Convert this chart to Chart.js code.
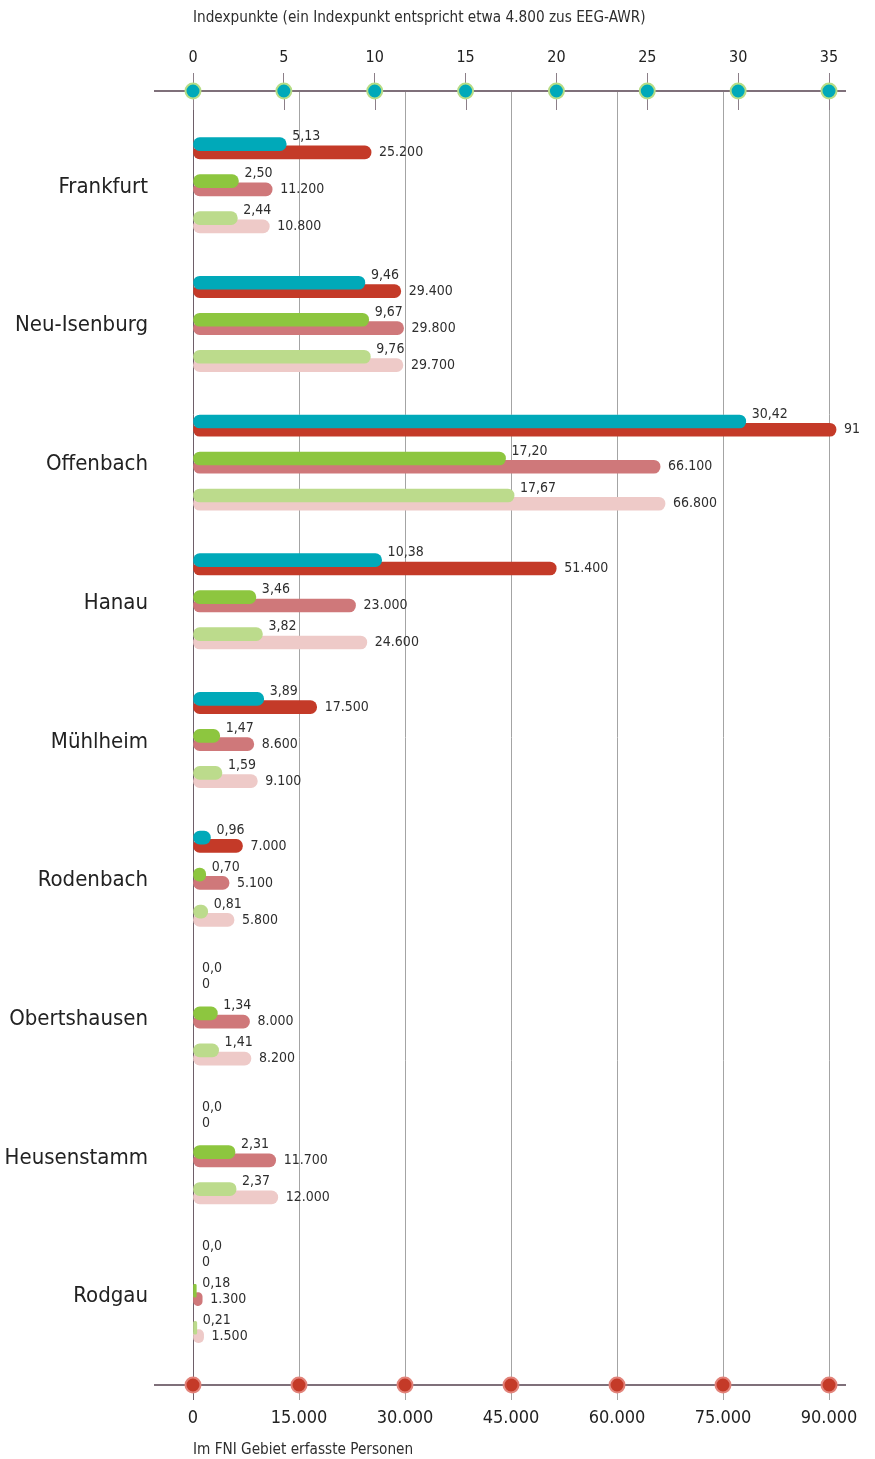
<!DOCTYPE html>
<html lang="de">
<head>
<meta charset="utf-8">
<title>Indexpunkte und erfasste Personen</title>
<script src="https://cdn.jsdelivr.net/npm/chart.js@4.4.1/dist/chart.umd.min.js"></script>
<style>
  html, body { margin: 0; padding: 0; background: #fff; }
  #wrap { width: 875px; height: 1459px; }
</style>
</head>
<body>
<div id="wrap"><canvas id="chart" width="875" height="1459"></canvas></div>
<script>
// Gemeinden von oben nach unten
const staedte = ['Frankfurt', 'Neu-Isenburg', 'Offenbach', 'Hanau', 'Mühlheim', 'Rodenbach', 'Obertshausen', 'Heusenstamm', 'Rodgau'];

// Indexpunkte, drei Reihen je Gemeinde
const index1 = [5.13, 9.46, 30.42, 10.38, 3.89, 0.96, 0, 0, 0];
const index2 = [2.50, 9.67, 17.20, 3.46, 1.47, 0.70, 1.34, 2.31, 0.18];
const index3 = [2.44, 9.76, 17.67, 3.82, 1.59, 0.81, 1.41, 2.37, 0.21];

// erfasste Personen, gleiche Reihen
const personen1 = [25200, 29400, 91000, 51400, 17500, 7000, 0, 0, 0];
const personen2 = [11200, 29800, 66100, 23000, 8600, 5100, 8000, 11700, 1300];
const personen3 = [10800, 29700, 66800, 24600, 9100, 5800, 8200, 12000, 1500];

const indexTicks = [0, 5, 10, 15, 20, 25, 30, 35];
const personenTicks = [0, 15000, 30000, 45000, 60000, 75000, 90000];

const SCHRIFT = '"DejaVu Sans Condensed", "DejaVu Sans", sans-serif';

// Zeilenraster: eine Einheit = eine Balkenzeile, Gemeinden etwas weiter auseinander
const GEMEINDE_ABSTAND = 3.749;
const VERSATZ = 0.112;
function zeile(c, j) { return c * GEMEINDE_ABSTAND + j; }

function tausender(v) {
  return String(Math.round(v)).replace(/\B(?=(\d{3})+(?!\d))/g, '.');
}
function personenText(v) {
  // über dem Achsenende nur in Tausend
  return v > 90000 ? String(Math.round(v / 1000)) : tausender(v);
}
function indexText(v) {
  return v === 0 ? '0,0' : v.toFixed(2).replace('.', ',');
}

function balken(werte, j, art, farbe) {
  return {
    art: art,
    xAxisID: art === 'index' ? 'xIndex' : 'x',
    data: werte.map((v, c) => ({ x: v, y: zeile(c, j) + (art === 'index' ? -VERSATZ : VERSATZ) })),
    // Nullwerte ohne Balken, nur mit Beschriftung
    backgroundColor: c => (c.raw && c.raw.x === 0) ? 'rgba(0,0,0,0)' : farbe,
    borderWidth: 0,
    borderRadius: 6.5,
    borderSkipped: false,
    barThickness: 13,
    grouped: false
  };
}

const achsenPlugin = {
  id: 'achsen',
  afterDatasetsDraw(chart) {
    const ctx = chart.ctx;
    const area = chart.chartArea;
    const xi = chart.scales.xIndex;
    const xp = chart.scales.x;
    ctx.save();

    // kurze Striche unter der oberen Achse
    ctx.strokeStyle = '#8c7f88';
    ctx.lineWidth = 1;
    xi.ticks.forEach(t => {
      const px = Math.round(xi.getPixelForValue(t.value)) + 0.5;
      ctx.beginPath();
      ctx.moveTo(px, area.top);
      ctx.lineTo(px, area.top + 19);
      ctx.stroke();
    });

    // Beschriftung an den Balkenenden
    ctx.font = '14px ' + SCHRIFT;
    ctx.fillStyle = '#2e2e2e';
    ctx.textAlign = 'left';
    ctx.textBaseline = 'middle';
    chart.data.datasets.forEach((ds, i) => {
      const meta = chart.getDatasetMeta(i);
      meta.data.forEach((bar, k) => {
        const v = ds.data[k].x;
        if (ds.art === 'index') {
          ctx.fillText(indexText(v), Math.max(bar.x, 196) + 6, bar.y - 7.5);
        } else {
          ctx.fillText(personenText(v), Math.max(bar.x, 194) + 8, bar.y);
        }
      });
    });

    // Punkte auf den beiden Achsen
    function punkt(x, y, fuell, rand) {
      ctx.beginPath();
      ctx.arc(x, y, 7.5, 0, Math.PI * 2);
      ctx.fillStyle = fuell;
      ctx.fill();
      ctx.lineWidth = 2;
      ctx.strokeStyle = rand;
      ctx.stroke();
    }
    xi.ticks.forEach(t => punkt(xi.getPixelForValue(t.value), area.top, '#00a9b9', '#b6dd86'));
    xp.ticks.forEach(t => punkt(xp.getPixelForValue(t.value), area.bottom, '#c43a28', '#e2837a'));

    // Achsentitel
    ctx.font = '15.2px ' + SCHRIFT;
    ctx.fillStyle = '#2e2e2e';
    ctx.fillText('Indexpunkte (ein Indexpunkt entspricht etwa 4.800 zus EEG-AWR)', xi.getPixelForValue(0), 18);
    ctx.fillText('Im FNI Gebiet erfasste Personen', xp.getPixelForValue(0), 1450);
    ctx.restore();
  }
};

new Chart(document.getElementById('chart'), {
  type: 'bar',
  data: {
    datasets: [
      balken(index1, 0, 'index', '#00a9b9'),
      balken(index2, 1, 'index', '#8dc63f'),
      balken(index3, 2, 'index', '#bcdb8c'),
      balken(personen1, 0, 'personen', '#c43a28'),
      balken(personen2, 1, 'personen', '#cf787a'),
      balken(personen3, 2, 'personen', '#eecac8')
    ]
  },
  options: {
    indexAxis: 'y',
    responsive: false,
    animation: false,
    devicePixelRatio: 1,
    layout: { padding: { top: 0, right: 30, bottom: 0, left: 0 } },
    plugins: { legend: { display: false }, tooltip: { enabled: false } },
    scales: {
      y: {
        type: 'linear',
        reverse: true,
        offset: false,
        min: -1.546,
        max: 33.427,
        afterBuildTicks: s => { s.ticks = staedte.map((n, c) => ({ value: zeile(c, 1) + 0.05 })); },
        afterFit: s => { s.width = 155; },
        ticks: {
          callback: (v, i) => staedte[i],
          font: { family: SCHRIFT, size: 22 },
          color: '#222',
          padding: 7,
          autoSkip: false
        },
        grid: { display: false, drawTicks: false, offset: false },
        border: { display: false }
      },
      x: {
        type: 'linear',
        position: 'bottom',
        offset: false,
        min: -5377.4,
        max: 92264,
        afterBuildTicks: s => { s.ticks = personenTicks.map(v => ({ value: v })); },
        afterFit: s => { s.height = 74; },
        ticks: {
          callback: v => tausender(v),
          font: { family: SCHRIFT, size: 18 },
          color: '#222',
          padding: 8,
          maxRotation: 0,
          autoSkip: false
        },
        grid: {
          color: c => (c.tick && c.tick.value === 0) ? '#6e5f69' : '#a4a4a4',
          lineWidth: 1,
          tickLength: 15
        },
        border: { display: true, color: '#7f707a', width: 2 }
      },
      xIndex: {
        type: 'linear',
        position: 'top',
        offset: false,
        min: -2.0912,
        max: 35.8805,
        afterBuildTicks: s => { s.ticks = indexTicks.map(v => ({ value: v })); },
        afterFit: s => { s.height = 91; },
        ticks: {
          font: { family: SCHRIFT, size: 16 },
          color: '#222',
          padding: 6,
          maxRotation: 0,
          autoSkip: false
        },
        grid: { drawOnChartArea: false, tickLength: 18, color: '#8c7f88' },
        border: { display: true, color: '#7f707a', width: 2 }
      }
    }
  },
  plugins: [achsenPlugin]
});
</script>
</body>
</html>
